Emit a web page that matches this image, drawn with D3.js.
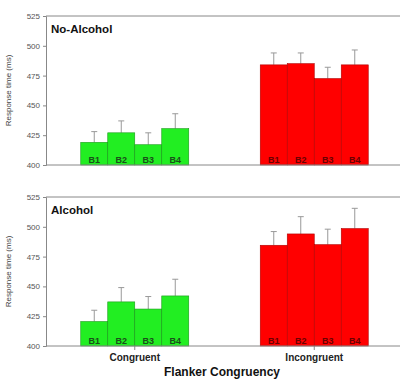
<!DOCTYPE html>
<html><head><meta charset="utf-8">
<script src="https://cdn.jsdelivr.net/npm/d3@7"></script>
<style>body{margin:0;background:#fff}svg{display:block}text{font-family:"Liberation Sans",Arial,sans-serif}</style>
</head><body>
<svg id="c" width="400" height="380"></svg>
<script>
const groups = ["Congruent", "Incongruent"];
const blocks = ["B1", "B2", "B3", "B4"];
const yTicks = [400, 425, 450, 475, 500, 525];
const panelTitles = ["No-Alcohol", "Alcohol"];
// means [group][block]
const noAlcMeans = [[419, 427, 417, 430.5], [484, 485, 472.5, 484]];
const noAlcErr   = [[9, 10, 10, 12.5], [10, 9, 9.5, 12.5]];
const alcMeans   = [[420.5, 437, 431, 442], [484.5, 494, 485, 498.5]];
const alcErr     = [[9.5, 12, 10.5, 14], [11.5, 14.5, 13, 17]];
const fills = ["#22ee22", "#ff0000"];
const strokes = ["#1a9a1a", "#b00000"];
const labelCol = ["#1a4f1a", "#6a0000"];

const svg = d3.select("#c");
const left = 46;
const x0 = d3.scaleBand().domain(groups).range([45, 404]);
const groupW = 108;
const x1 = d3.scaleBand().domain(blocks).range([0, groupW]).padding(0);

const panels = [
  {title: panelTitles[0], means: noAlcMeans, err: noAlcErr, top: 16, bottom: 165, catTicks: false},
  {title: panelTitles[1], means: alcMeans, err: alcErr, top: 197, bottom: 346, catTicks: true}
];

panels.forEach(p => {
  const y = d3.scaleLinear().domain([400, 525]).range([p.bottom, p.top]);
  const g = svg.append("g");
  g.append("line").attr("x1", left).attr("x2", 400).attr("y1", p.top).attr("y2", p.top).attr("stroke", "#888").attr("stroke-width", 1);
  const ya = g.append("g").attr("transform", `translate(${left},0)`)
    .call(d3.axisLeft(y).tickValues(yTicks).tickSize(3).tickPadding(3));
  ya.select(".domain").attr("stroke", "#888");
  ya.selectAll(".tick line").attr("stroke", "#888");
  ya.selectAll(".tick text").attr("fill", "#555").attr("font-size", 8);
  groups.forEach((grp, gi) => {
    const gx = x0(grp) + x0.bandwidth() / 2 - groupW / 2;
    blocks.forEach((b, bi) => {
      const v = p.means[gi][bi], e = p.err[gi][bi];
      const bx = gx + x1(b), bw = x1.bandwidth();
      const cx = bx + bw / 2;
      g.append("line").attr("x1", cx).attr("x2", cx).attr("y1", y(v)).attr("y2", y(v + e)).attr("stroke", "#999").attr("stroke-width", 1);
      g.append("line").attr("x1", cx - 3).attr("x2", cx + 3).attr("y1", y(v + e)).attr("y2", y(v + e)).attr("stroke", "#999").attr("stroke-width", 1);
      g.append("rect").attr("x", bx).attr("y", y(v)).attr("width", bw).attr("height", y(400) - y(v))
        .attr("fill", fills[gi]).attr("stroke", strokes[gi]).attr("stroke-width", 0.6);
      g.append("text").attr("x", cx).attr("y", p.bottom - 2).attr("text-anchor", "middle")
        .attr("font-size", 9).attr("font-weight", "bold").attr("fill", labelCol[gi]).text(b);
    });
  });
  g.append("line").attr("x1", left).attr("x2", 400).attr("y1", p.bottom).attr("y2", p.bottom).attr("stroke", "#888").attr("stroke-width", 1);
  if (p.catTicks) {
    groups.forEach(grp => {
      const cx = x0(grp) + x0.bandwidth() / 2;
      g.append("line").attr("x1", cx).attr("x2", cx).attr("y1", p.bottom).attr("y2", p.bottom + 4).attr("stroke", "#888");
    });
  }
  g.append("text").attr("x", 51).attr("y", p.top + 17).attr("font-size", 11.5).attr("font-weight", "bold").attr("fill", "#111").text(p.title);
  g.append("text").attr("transform", `translate(11,${(p.top + p.bottom) / 2}) rotate(-90)`)
    .attr("text-anchor", "middle").attr("font-size", 8).attr("fill", "#444").text("Response time (ms)");
});

groups.forEach(grp => {
  svg.append("text").attr("x", x0(grp) + x0.bandwidth() / 2).attr("y", 361).attr("text-anchor", "middle")
    .attr("font-size", 10).attr("font-weight", "bold").attr("fill", "#222").text(grp);
});
svg.append("text").attr("x", 222).attr("y", 376).attr("text-anchor", "middle")
  .attr("font-size", 12).attr("font-weight", "bold").attr("fill", "#111").text("Flanker Congruency");
</script>
</body></html>
